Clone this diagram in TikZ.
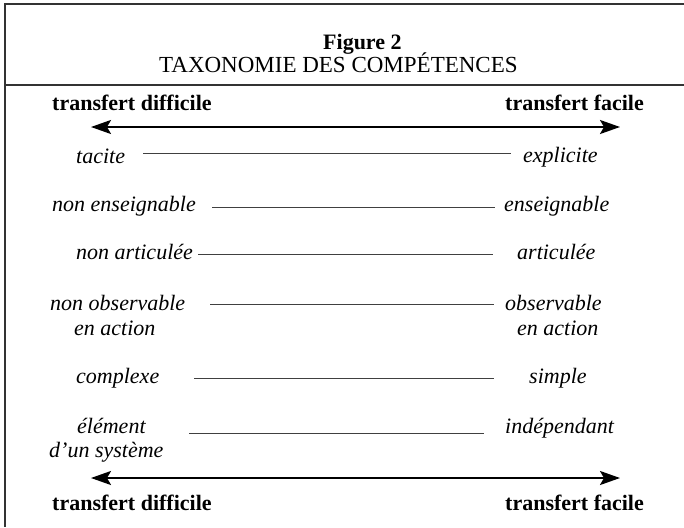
\documentclass[tikz,border=0pt]{standalone}
\usepackage{fontspec}
\setmainfont{Liberation Serif}
\usetikzlibrary{arrows.meta}

\begin{document}
\begin{tikzpicture}[x=1pt, y=-1pt,
		lbl/.style={anchor=base west, inner sep=0pt, font=\fontsize{22}{26}\selectfont\itshape},
		ends/.style={anchor=base west, inner sep=0pt, font=\fontsize{22}{26}\selectfont\bfseries},
		axis/.style={line width=2.2pt, {Stealth[length=20pt,width=14pt,inset=4pt]}-{Stealth[length=20pt,width=14pt,inset=4pt]}},
		bar/.style={line width=0.8pt, color=black!75}]
			%%%%% FRAME %%%%%
			
			\useasboundingbox (0, 0) rectangle (684, 527);
			\draw[line width=1.3pt, color=black!80] (684, 4) -- (5, 4) -- (5, 527);
			\draw[line width=1.3pt, color=black!80] (5, 85) -- (684, 85);
			
			\node[ends] (fig) at (323, 49) {Figure 2};
			\node[anchor=base west, inner sep=0pt, font=\fontsize{23}{27}\selectfont] (title) at (159, 72) {TAXONOMIE DES COMPÉTENCES};
			
			%%%%% AXES %%%%%
			
			\node[ends] (hard1) at (52, 110) {transfert difficile};
			\node[ends] (easy1) at (505, 110) {transfert facile};
			\coordinate (hardtip1) at (91, 127);
			\coordinate (easytip1) at (620, 127);
			\draw[axis] (hardtip1) -- (easytip1);
			
			\node[ends] (hard2) at (52, 510) {transfert difficile};
			\node[ends] (easy2) at (505, 510) {transfert facile};
			\coordinate (hardtip2) at (91, 478);
			\coordinate (easytip2) at (620, 478);
			\draw[axis] (hardtip2) -- (easytip2);
			
			%%%%% ROWS %%%%%
			
			\node[lbl] (tacite) at (76, 163) {tacite};
			\node[lbl] (explicite) at (523, 162) {explicite};
			\coordinate (a1) at (143, 153);
			\coordinate (b1) at (511, 153);
			\draw[bar] (a1) -- (b1);
			
			\node[lbl] (nonens) at (52, 211) {non enseignable};
			\node[lbl] (ens) at (504, 211) {enseignable};
			\coordinate (a2) at (212, 207);
			\coordinate (b2) at (495, 207);
			\draw[bar] (a2) -- (b2);
			
			\node[lbl] (nonart) at (76, 259) {non articulée};
			\node[lbl] (art) at (517, 259) {articulée};
			\coordinate (a3) at (198, 254);
			\coordinate (b3) at (493, 254);
			\draw[bar] (a3) -- (b3);
			
			\node[lbl] (nonobs) at (50, 310) {non observable};
			\node[lbl] (nonobsb) at (74, 335) {en action};
			\node[lbl] (obs) at (505, 310) {observable};
			\node[lbl] (obsb) at (517, 335) {en action};
			\coordinate (a4) at (210, 304);
			\coordinate (b4) at (494, 304);
			\draw[bar] (a4) -- (b4);
			
			\node[lbl] (complexe) at (76, 383) {complexe};
			\node[lbl] (simple) at (529, 383) {simple};
			\coordinate (a5) at (194, 378);
			\coordinate (b5) at (494, 378);
			\draw[bar] (a5) -- (b5);
			
			\node[lbl] (elem) at (77, 433) {élément};
			\node[lbl] (elemb) at (49, 457) {d’un système};
			\node[lbl] (indep) at (505, 433) {indépendant};
			\coordinate (a6) at (189, 433);
			\coordinate (b6) at (484, 433);
			\draw[bar] (a6) -- (b6);
			
			%%%%% END %%%%%
\end{tikzpicture}
\end{document}
